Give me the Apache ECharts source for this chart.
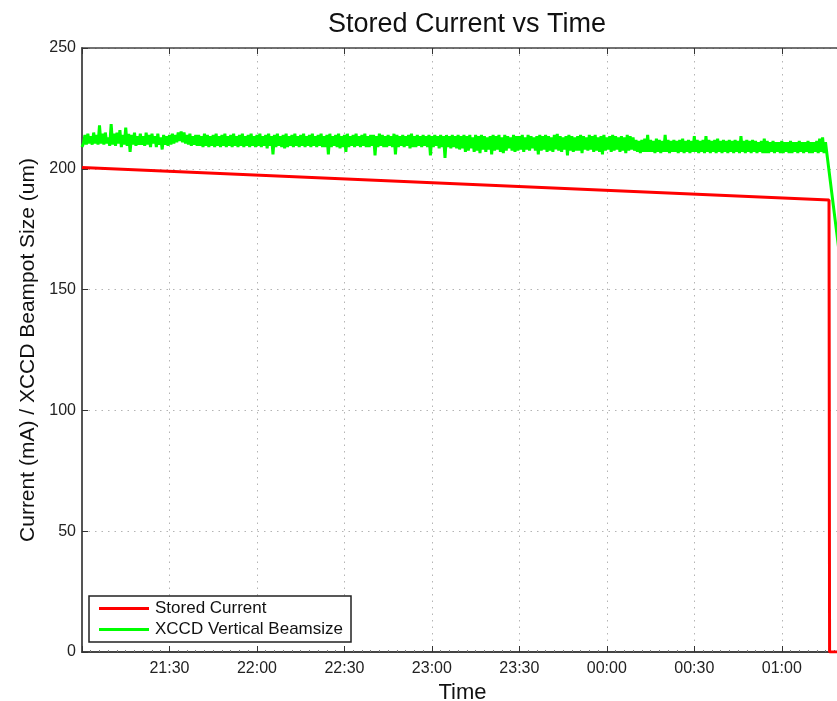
<!DOCTYPE html>
<html>
<head>
<meta charset="utf-8">
<script src="https://cdn.jsdelivr.net/npm/echarts@6/dist/echarts.min.js"></script>
<style>
  html, body { margin: 0; padding: 0; background: #fff; }
  #chart { width: 837px; height: 701px; }
</style>
</head>
<body>
<div id="chart"></div>
<script>
// Time axis is expressed in minutes after 21:00
const START_HOUR = 21;
const X_MAX = 261;
const yTicks = [0, 50, 100, 150, 200, 250];

// Stored current (mA): slow decay, then beam dump
const currentTime = [0, 256.2, 256.4, 261];
const currentValues = [200.5, 187.1, 0, 0];

// XCCD vertical beamsize (um), one sample every 30 s from 21:00
const SAMPLE_STEP = 0.5;
const beamsizeValues = [
  209, 210.5, 214, 210, 214.5, 210.5, 213.5, 210, 215, 210.5,
  214, 210, 218, 210.5, 214.5, 210, 215, 210.5, 213, 209.5,
  218.5, 210, 214.5, 209.5, 215, 210.5, 216, 209, 214, 210,
  217, 209.5, 214.5, 207, 214, 210, 215, 209.5, 213.5, 210,
  214.5, 210, 213.5, 209.5, 215, 210, 214, 209, 214.5, 210.5,
  213.5, 209, 214.5, 210, 213, 208, 214, 210, 213.5, 209.5,
  214, 210, 214.5, 210.5, 214, 211, 215, 211.5, 215.5, 211,
  215, 210.5, 214, 210, 214.5, 209.5, 213.5, 210, 214, 209.5,
  214, 209.5, 213.5, 209, 214.5, 209.5, 214, 209, 213.5, 209.5,
  214, 209, 214.5, 209.5, 213.5, 209, 214, 209.5, 214.5, 209,
  213.5, 209.5, 214, 209, 214.5, 209.5, 213.5, 209, 214, 209.5,
  214.5, 209, 213.5, 209.5, 214, 209, 214.5, 209.5, 213.5, 209,
  214, 209.5, 214.5, 209, 213.5, 209.5, 214, 208.5, 214.5, 209.5,
  213.5, 206, 214, 209, 214.5, 209.5, 213.5, 209, 214, 208.5,
  214.5, 209, 213.5, 209.5, 214, 209, 214.5, 209.5, 213.5, 209,
  214, 209.5, 214.5, 209, 213.5, 209.5, 214, 209, 214.5, 209.5,
  213.5, 209, 214, 209.5, 214.5, 209, 213.5, 209, 214, 206,
  214.5, 209, 213.5, 209.5, 214, 209, 214.5, 208.5, 213.5, 209,
  214, 207, 214.5, 209, 213.5, 209.5, 214, 209, 214.5, 209.5,
  213.5, 209, 214, 209.5, 214.5, 209, 213.5, 209, 214, 209.5,
  214, 205.5, 213.5, 209, 214.5, 209.5, 214, 209, 213.5, 209,
  214, 209.5, 213.5, 209, 214.5, 206, 214, 209, 213.5, 209.5,
  214, 209, 213.5, 209.5, 214, 208.5, 214.5, 209, 213.5, 209,
  214, 209.5, 213.5, 209, 214, 209.5, 213.5, 209, 214, 205.5,
  213.5, 209, 214, 209.5, 213.5, 208.5, 214, 209, 213.5, 204.5,
  214, 209, 213.5, 208.5, 214, 209, 213.5, 208.5, 214, 208,
  213.5, 208.5, 214, 207, 213.5, 207.5, 214, 208.5, 213, 207,
  214, 207.5, 213.5, 206.5, 214, 208, 213.5, 207, 213, 208,
  213.5, 206, 214, 207.5, 213.5, 208, 214, 207, 213, 206.5,
  214, 207.5, 213.5, 208.5, 213, 207.5, 214, 207, 213.5, 207.5,
  213.5, 208, 214, 207, 213, 208, 214, 207.5, 213.5, 208.5,
  213, 207.5, 213.5, 206, 214, 207.5, 213.5, 208, 214, 207,
  213.5, 207.5, 213, 207, 214, 208, 214.5, 207.5, 213.5, 207,
  213, 208, 213.5, 205.5, 214, 207.5, 213.5, 207, 213, 207.5,
  213.5, 207.5, 214, 206.5, 213.5, 208, 213, 207.5, 214, 208,
  213.5, 207, 214, 207.5, 213, 207, 213.5, 206, 214, 207.5,
  213, 208, 213.5, 207, 214, 207.5, 213.5, 208, 213, 207,
  213.5, 207.5, 213, 206.5, 214, 207.5, 213.5, 208, 213, 207.5,
  212, 207, 211.5, 206.5, 212, 207, 212.5, 207, 214, 207,
  212, 207, 211.5, 206.5, 212.5, 207, 212, 206.5, 211.5, 207,
  214, 207, 212, 206.5, 211.5, 207, 212, 207, 211.5, 206.5,
  212, 207, 212.5, 206.5, 211.5, 207, 212, 206.5, 211.5, 207,
  213.5, 207, 212, 206.5, 211.5, 207, 212, 206.5, 213.5, 207,
  212, 206.5, 211.5, 207, 212, 206.5, 212.5, 207, 211.5, 206.5,
  212, 207, 211.5, 206.5, 212, 207, 211.5, 206.5, 212, 207,
  211.5, 206.5, 213.5, 207, 211.5, 206.5, 212, 207, 211.5, 206.5,
  212, 207, 211.5, 206.5, 211, 207, 211.5, 206.5, 212.5, 206.5,
  211.5, 206.5, 211, 207, 211.5, 206.5, 211, 207, 211, 206.5,
  211.5, 206.5, 211, 207, 211, 206.5, 211.5, 206.5, 211, 207,
  211, 206.5, 211.5, 207, 211, 206.5, 211, 207, 211.5, 206.5,
  211, 206.5, 211, 207, 211.5, 206.5, 212.5, 207, 213, 206.5,
  211, 206
];
// Fall-off after the dump
const beamsizeTailTime = [256, 262];
const beamsizeTailValues = [205.5, 143];

const FONT = "'Liberation Sans', Arial, Helvetica, sans-serif";

function fmtTime(m) {
  const total = (START_HOUR * 60 + Math.round(m)) % (24 * 60);
  const h = Math.floor(total / 60), mm = total % 60;
  return String(h).padStart(2, '0') + ':' + String(mm).padStart(2, '0');
}

const currentData = currentTime.map((t, i) => [t, currentValues[i]]);
const beamsizeData = beamsizeValues.map((v, i) => [i * SAMPLE_STEP, v])
  .concat(beamsizeTailTime.map((t, i) => [t, beamsizeTailValues[i]]));

const chart = echarts.init(document.getElementById('chart'), null, { renderer: 'canvas' });

const gridLine = { show: true, lineStyle: { color: '#b4b4b4', type: [1.5, 5], width: 1 } };

chart.setOption({
  backgroundColor: '#ffffff',
  animation: false,
  title: {
    text: 'Stored Current vs Time',
    left: 462,
    textAlign: 'center',
    top: 6,
    textStyle: { fontFamily: FONT, fontSize: 27, fontWeight: 'normal', color: '#111' }
  },
  // the axes box runs slightly past the right edge of the canvas
  grid: { left: 82, top: 48, width: 761, height: 604, containLabel: false, outerBoundsMode: 'none' },
  legend: {
    orient: 'vertical',
    left: 89,
    top: 596,
    itemWidth: 50,
    itemHeight: 3,
    itemGap: 4,
    padding: [4, 8, 4, 10],
    borderColor: '#222',
    borderWidth: 1.5,
    backgroundColor: '#fff',
    borderRadius: 0,
    icon: 'rect',
    textStyle: { fontFamily: FONT, fontSize: 17, color: '#111', padding: [0, 0, 0, 1] },
    data: ['Stored Current', 'XCCD Vertical Beamsize']
  },
  xAxis: [{
    type: 'value',
    min: 0,
    max: X_MAX,
    interval: 30,
    name: 'Time',
    nameLocation: 'middle',
    nameGap: 28,
    nameTextStyle: { fontFamily: FONT, fontSize: 22, color: '#111' },
    axisLine: { show: true, onZero: false, lineStyle: { color: '#444', width: 2 } },
    axisTick: { show: true, inside: true, length: 6, lineStyle: { color: '#333', width: 1 } },
    minorTick: { show: true, splitNumber: 10, length: 2, lineStyle: { color: '#777' } },
    axisLabel: {
      showMinLabel: false,
      showMaxLabel: false,
      margin: 9,
      fontFamily: FONT, fontSize: 16, color: '#222',
      formatter: v => fmtTime(v)
    },
    splitLine: gridLine
  }, {
    type: 'value',
    position: 'top',
    min: 0,
    max: X_MAX,
    interval: 30,
    axisLine: { show: true, onZero: false, lineStyle: { color: '#444', width: 1.5 } },
    axisTick: { show: true, inside: true, length: 6, lineStyle: { color: '#333' } },
    axisLabel: { show: false },
    splitLine: { show: false }
  }],
  yAxis: {
    type: 'value',
    min: yTicks[0],
    max: yTicks[yTicks.length - 1],
    interval: 50,
    name: 'Current (mA) / XCCD Beampot Size (um)',
    nameLocation: 'middle',
    nameGap: 41,
    nameTextStyle: { fontFamily: FONT, fontSize: 21, color: '#111' },
    axisLine: { show: true, onZero: false, lineStyle: { color: '#555', width: 2 } },
    axisTick: { show: true, inside: true, length: 6, lineStyle: { color: '#333' } },
    axisLabel: { margin: 6, fontFamily: FONT, fontSize: 16, color: '#222' },
    splitLine: gridLine
  },
  series: [{
    name: 'Stored Current',
    type: 'line',
    data: currentData,
    showSymbol: false,
    symbol: 'none',
    clip: true,
    lineStyle: { color: '#ff0000', width: 3 },
    itemStyle: { color: '#ff0000' },
    z: 3
  }, {
    name: 'XCCD Vertical Beamsize',
    type: 'line',
    data: beamsizeData,
    showSymbol: false,
    symbol: 'none',
    clip: true,
    lineStyle: { color: '#00ff00', width: 3 },
    itemStyle: { color: '#00ff00' },
    z: 2
  }]
});
</script>
</body>
</html>
